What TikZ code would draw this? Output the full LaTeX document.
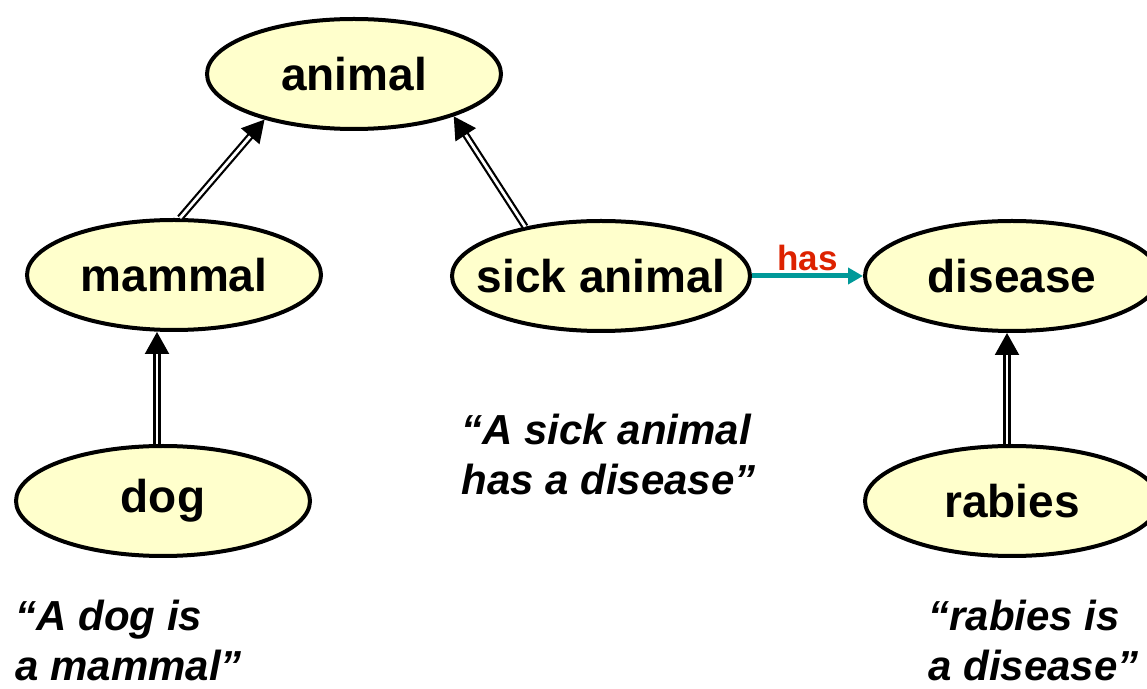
\documentclass[tikz,border=0pt]{standalone}
\usepackage{fontspec}
\setmainfont{Liberation Sans}
\usetikzlibrary{arrows.meta,shapes.geometric}
\definecolor{conceptfill}{RGB}{255,255,204}
\definecolor{hasteal}{RGB}{0,153,153}
\definecolor{hasred}{RGB}{221,34,0}

\begin{document}
\begin{tikzpicture}[x=0.5pt, y=-0.5pt,
    concept/.style={ellipse, draw, line width=2pt, fill=conceptfill,
      minimum width=147pt, minimum height=55pt, inner sep=0pt,
      font=\fontsize{23}{27}\selectfont\bfseries},
    isa/.style={double, double distance=1.4pt, line width=1.1pt,
      -{Triangle[length=11pt, width=12pt]}},
    quote/.style={align=left, inner sep=0pt, anchor=north west,
      font=\fontsize{21}{25}\selectfont\bfseries\itshape}]
    % page 1147 x 689 px, clipped at the right edge like the slide
    \useasboundingbox (0,0) rectangle (1147,689);
    \clip (0,0) rectangle (1147,689);

    \node[concept] (animal) at (354,74) {animal};
    \node[concept] (mammal) at (174,275) {mammal};
    \node[concept, minimum width=149pt] (sick) at (601,276) {\makebox[0pt]{sick animal}};
    \node[concept] (disease) at (1012,276) {disease};
    \node[concept] (dog) at (163,501) {dog};
    \node[concept] (rabies) at (1012,501) {rabies};

    \draw[isa] (mammal.84) -- (animal.207);
    \draw[isa] (sick.147) -- (animal.337);
    \draw[isa] ([xshift=-3pt]dog.north) -- ([xshift=-3pt]dog.north |- mammal.south);
    \draw[isa] ([xshift=-2.5pt]rabies.north) -- ([xshift=-2.5pt]rabies.north |- disease.south);

    \draw[hasteal, line width=2.5pt, -{Triangle[length=7.5pt, width=8pt]}] (sick) -- (disease)
      node[midway, above=-2pt, text=hasred, font=\fontsize{17.5}{20}\selectfont\bfseries] (has) {has};

    \node[quote] (q1) at (461,414) {``A sick animal\\has a disease''};
    \node[quote] (q2) at (15,600) {``A dog is\\a mammal''};
    \node[quote] (q3) at (928,600) {``rabies is\\a disease''};
\end{tikzpicture}
\end{document}
